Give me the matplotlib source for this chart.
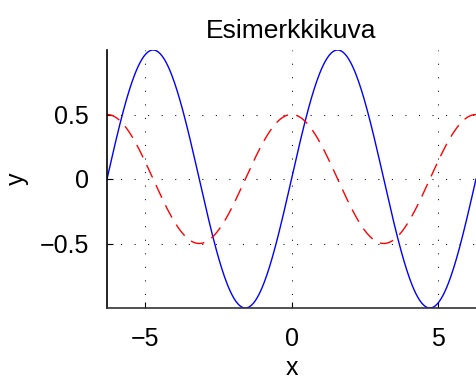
import numpy as np
import matplotlib
matplotlib.use('Agg')
import matplotlib.pyplot as plt

plt.rcParams['font.family'] = ['Liberation Sans', 'DejaVu Sans']

# data
x = np.linspace(-2 * np.pi, 2 * np.pi, 400)
y_sin = np.sin(x)
y_cos = 0.5 * np.cos(x)
xticks = [-5, 0, 5]
yticks = [-0.5, 0, 0.5]
title = 'Esimerkkikuva'

fig = plt.figure(figsize=(4.76, 3.79), dpi=100)
ax = fig.add_axes((107 / 476, 1 - 308 / 379, 1 - 107 / 476, (308 - 50) / 379))

ax.plot(x, y_sin, color='blue', lw=1.0)
ax.plot(x, y_cos, color='red', lw=1.0, linestyle=(0, (10, 6)))

ax.set_xlim(-2 * np.pi, 2 * np.pi)
ax.set_ylim(-1, 1)
ax.set_xticks(xticks)
ax.set_yticks(yticks)
ax.set_xticklabels(['\u22125', '0', '5'])
ax.set_yticklabels(['\u22120.5', '0', '0.5'])
ax.grid(True, color='black', linestyle=(0, (1, 12)), lw=0.75)

for s in ['top', 'right']:
    ax.spines[s].set_visible(False)
ax.spines['left'].set_linewidth(1.2)
ax.spines['bottom'].set_linewidth(1.2)
ax.spines['bottom'].set_color('#333333')
ax.tick_params(direction='in', length=4, labelsize=18)
ax.tick_params(axis='x', pad=14)
ax.tick_params(axis='y', pad=13)

ax.set_xlabel('x', fontsize=18, labelpad=3)
ax.set_ylabel('y', fontsize=18, labelpad=8)
ax.set_title(title, fontsize=19, pad=9)

plt.savefig('out.png', dpi=100)
